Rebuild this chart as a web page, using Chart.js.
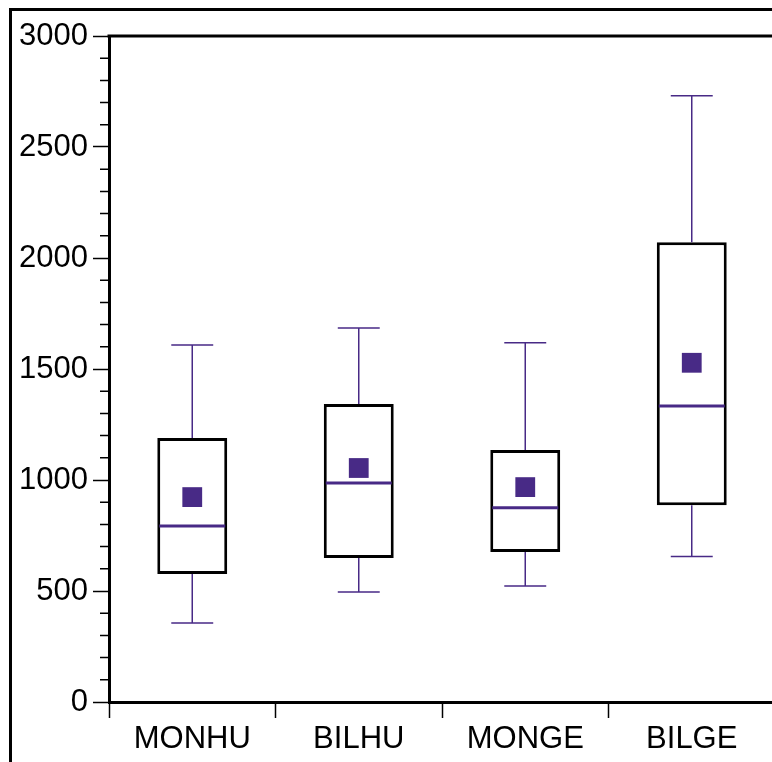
<!DOCTYPE html>
<html>
<head>
<meta charset="utf-8">
<script src="https://cdn.jsdelivr.net/npm/chart.js@4"></script>
<style>
  html, body { margin: 0; padding: 0; overflow: hidden; background: #fff; }
  #frame { position: absolute; left: 9px; top: 8px; width: 800px; height: 800px;
           border-left: 3px solid #000; border-top: 3px solid #000; }
  #box-chart { position: absolute; left: 0; top: 0; }
</style>
</head>
<body>
<div id="frame"></div>
<canvas id="box-chart" width="789" height="762"></canvas>
<script>
// box plot data
var categories = ["MONHU", "BILHU", "MONGE", "BILGE"];
var whiskerLow  = [356, 495, 523, 655];
var q1          = [577, 649, 676, 886];
var median      = [793, 986, 875, 1333];
var q3          = [1189, 1342, 1135, 2071];
var whiskerHigh = [1608, 1685, 1618, 2731];
var mean        = [923, 1054, 968, 1528];
var yTicks      = [0, 500, 1000, 1500, 2000, 2500, 3000];

var purple = "#482a86";
var font = { family: "'Liberation Sans', Arial, sans-serif", size: 31 };

var boxParts = {
    id: "boxParts",
    afterDatasetsDraw: function(chart) {
        var ctx = chart.ctx;
        var y = chart.scales.y;
        var bars = chart.getDatasetMeta(1).data;
        ctx.save();
        bars.forEach(function(bar, i) {
            var x = bar.x, half = bar.width / 2, cap = bar.width * 0.3;
            ctx.strokeStyle = purple;
            ctx.lineWidth = 1.5;
            ctx.beginPath();
            // whiskers
            ctx.moveTo(x, y.getPixelForValue(q3[i]));
            ctx.lineTo(x, y.getPixelForValue(whiskerHigh[i]));
            ctx.moveTo(x - cap, y.getPixelForValue(whiskerHigh[i]));
            ctx.lineTo(x + cap, y.getPixelForValue(whiskerHigh[i]));
            ctx.moveTo(x, y.getPixelForValue(q1[i]));
            ctx.lineTo(x, y.getPixelForValue(whiskerLow[i]));
            ctx.moveTo(x - cap, y.getPixelForValue(whiskerLow[i]));
            ctx.lineTo(x + cap, y.getPixelForValue(whiskerLow[i]));
            ctx.stroke();
            // median
            ctx.lineWidth = 3;
            ctx.beginPath();
            ctx.moveTo(x - half + 2, y.getPixelForValue(median[i]));
            ctx.lineTo(x + half - 2, y.getPixelForValue(median[i]));
            ctx.stroke();
        });
        // minor ticks on y axis
        ctx.strokeStyle = "#000";
        ctx.lineWidth = 1.5;
        ctx.beginPath();
        for (var v = y.min; v <= y.max; v += 100) {
            if (v % 500 === 0) continue;
            var py = y.getPixelForValue(v);
            ctx.moveTo(chart.chartArea.left - 9, py);
            ctx.lineTo(chart.chartArea.left, py);
        }
        ctx.stroke();
        // top border of plot area
        ctx.lineWidth = 3;
        ctx.beginPath();
        ctx.moveTo(chart.chartArea.left - 1.5, chart.chartArea.top);
        ctx.lineTo(chart.chartArea.right, chart.chartArea.top);
        ctx.stroke();
        ctx.restore();
    }
};

new Chart(document.getElementById("box-chart"), {
    data: {
        labels: categories,
        datasets: [
            {
                type: "line",
                label: "Mean",
                data: mean,
                showLine: false,
                pointStyle: "rect",
                pointRadius: 14,
                pointBackgroundColor: purple,
                pointBorderWidth: 0,
                order: 1
            },
            {
                type: "bar",
                label: "IQR",
                data: categories.map(function(c, i) { return [q1[i], q3[i]]; }),
                backgroundColor: "#fff",
                borderColor: "#000",
                borderWidth: 3,
                borderSkipped: false,
                barPercentage: 0.42,
                categoryPercentage: 1,
                order: 2
            }
        ]
    },
    options: {
        responsive: false,
        animation: false,
        layout: { padding: { top: 36, right: 2, bottom: 0, left: 0 } },
        plugins: { legend: { display: false }, tooltip: { enabled: false } },
        scales: {
            x: {
                offset: true,
                grid: { offset: true, drawOnChartArea: false, tickLength: 16, tickWidth: 1.5, tickColor: "#000" },
                border: { display: true, width: 3, color: "#000" },
                ticks: { color: "#000", font: font, padding: 3, maxRotation: 0 },
                afterFit: function(scale) { scale.height = 60; }
            },
            y: {
                min: 0,
                max: 3000,
                afterBuildTicks: function(scale) {
                    scale.ticks = yTicks.map(function(v) { return { value: v }; });
                },
                grid: { drawOnChartArea: false, tickLength: 16, tickWidth: 1.5, tickColor: "#000" },
                border: { display: true, width: 3, color: "#000" },
                ticks: {
                    color: "#000", font: font, padding: 5,
                    callback: function(value) { return String(value); }
                },
                afterFit: function(scale) { scale.width = 109; }
            }
        }
    },
    plugins: [boxParts]
});
</script>
</body>
</html>
